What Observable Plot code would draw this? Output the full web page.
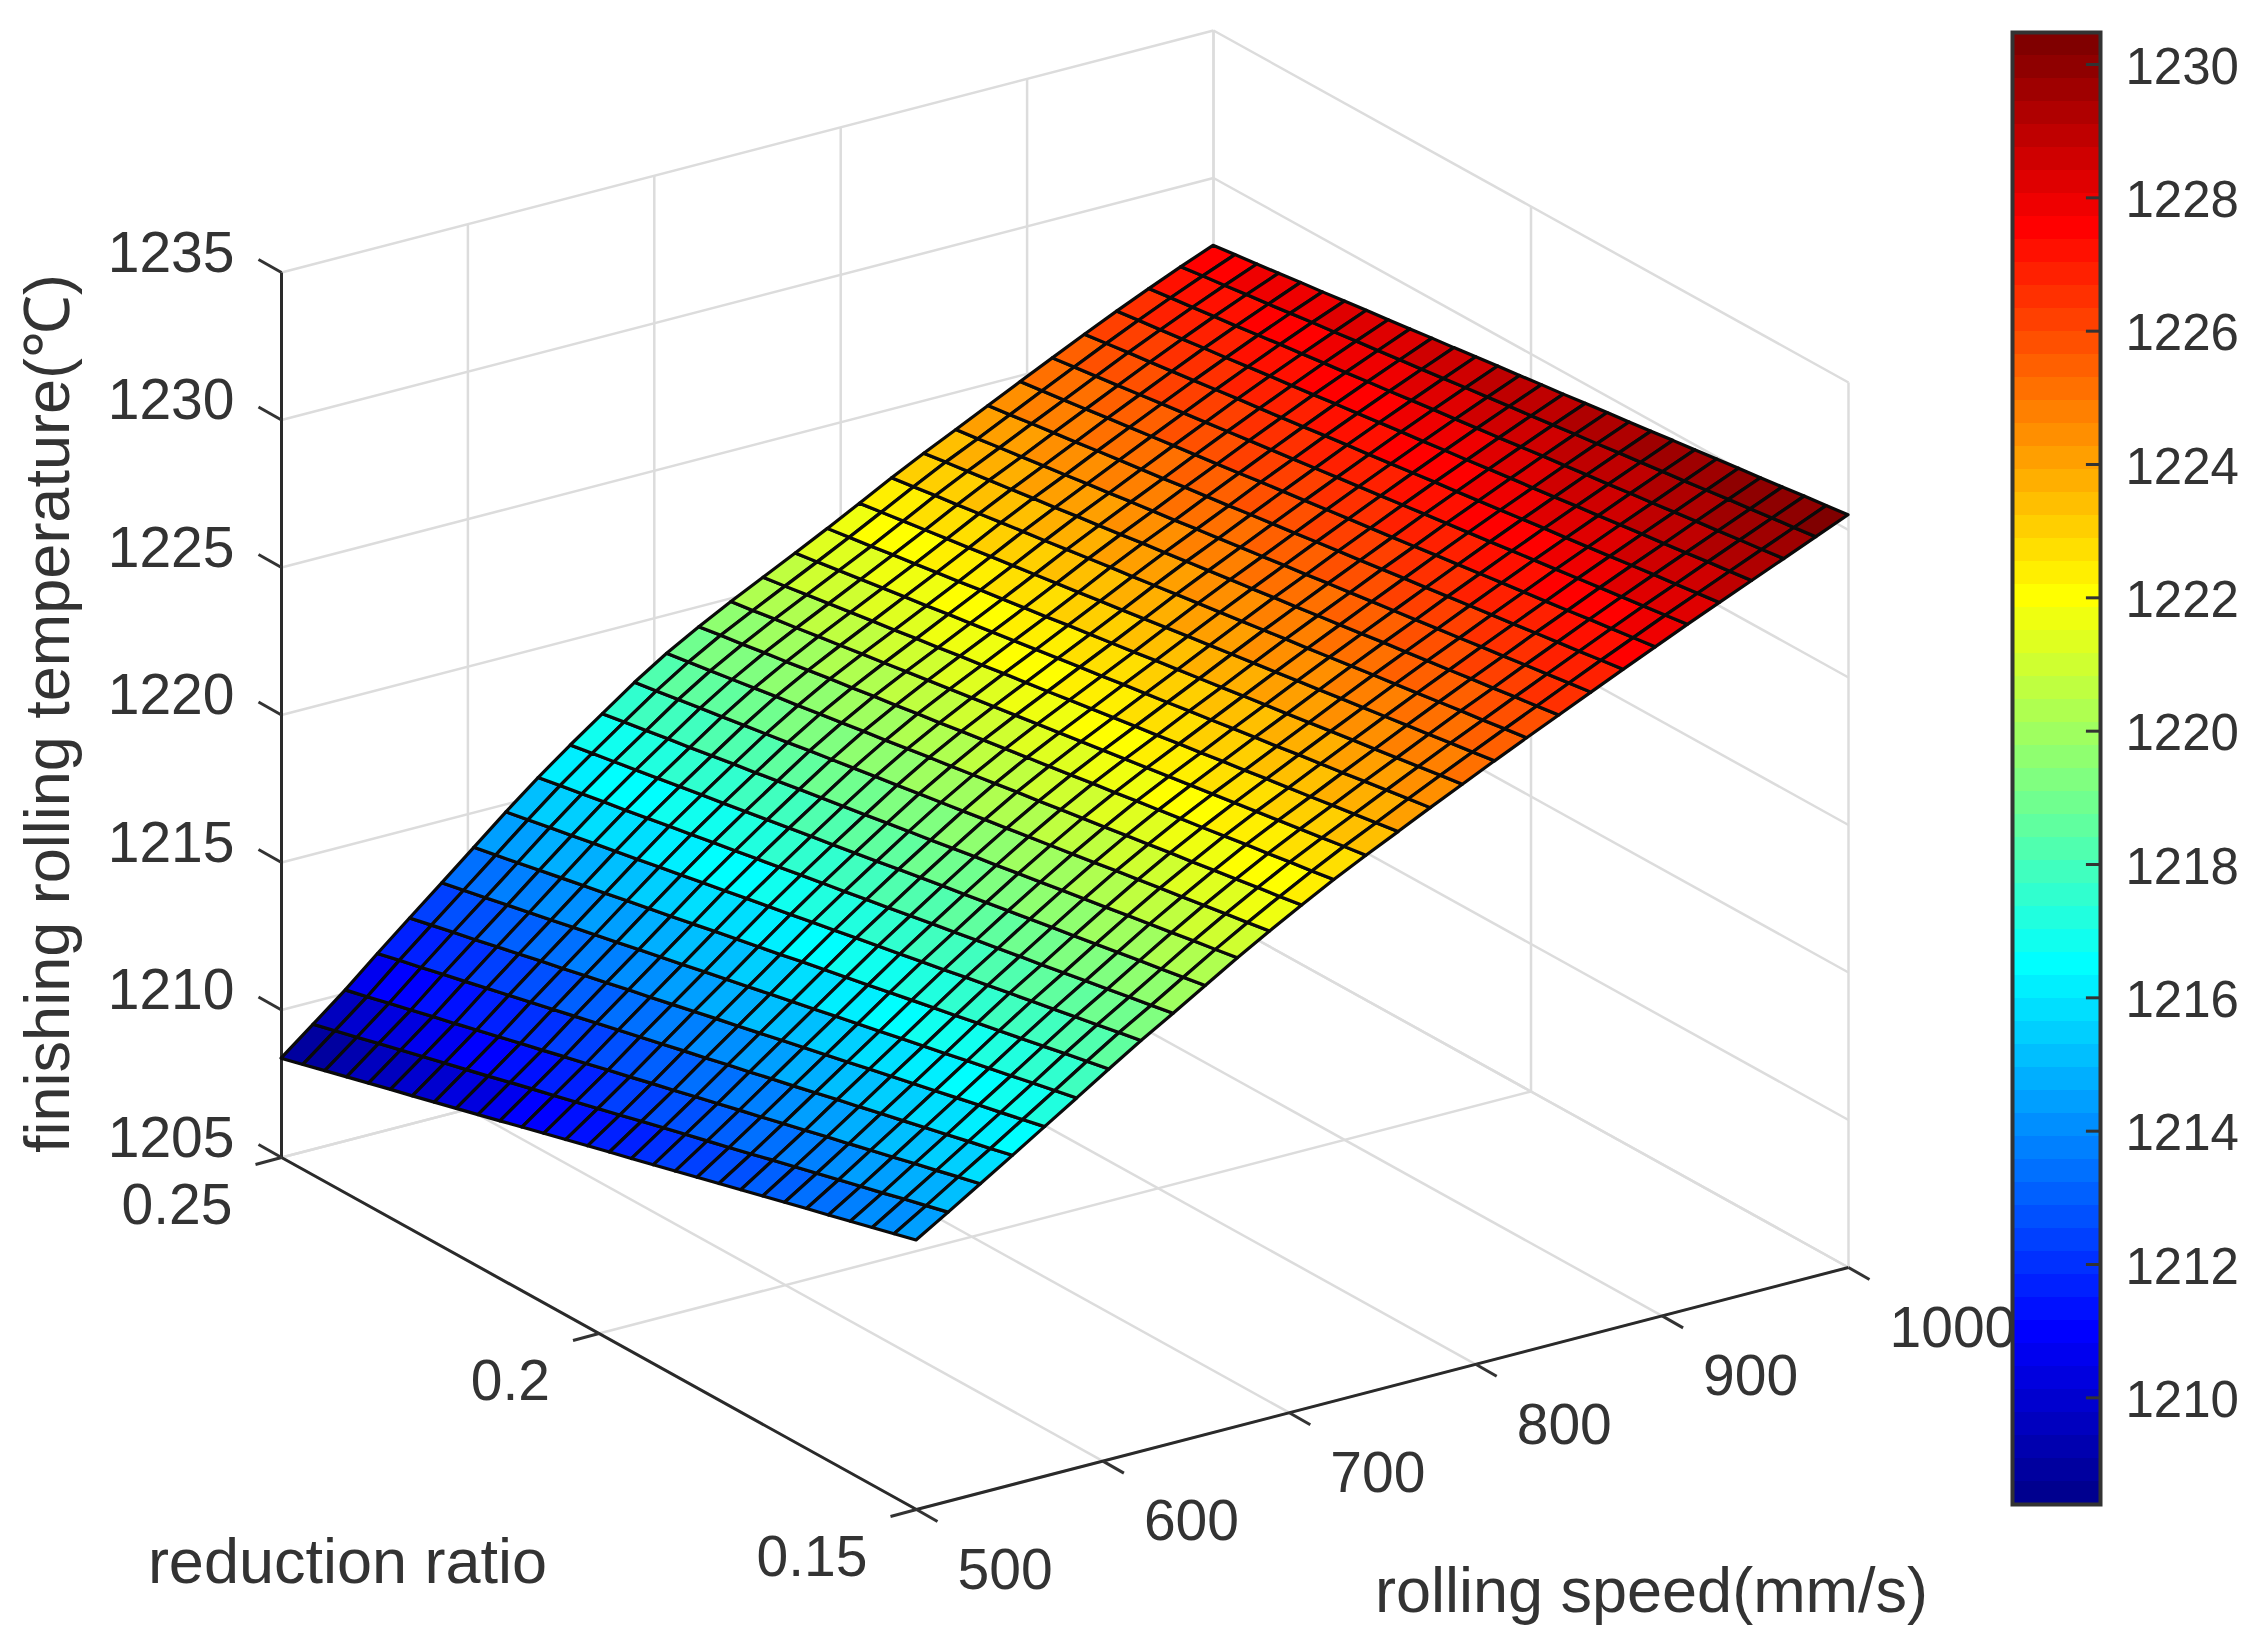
<!DOCTYPE html>
<html><head><meta charset="utf-8">
<script src="https://cdn.jsdelivr.net/npm/d3@7"></script>
<script src="https://cdn.jsdelivr.net/npm/@observablehq/plot@0.6"></script>
<style>html,body{margin:0;background:#fff}#wrap{position:relative;width:2258px;height:1636px;overflow:hidden}#wrap>*{position:absolute;top:0}</style>
</head><body><div id="wrap"></div>
<script>
const speedTicks=[500,600,700,800,900,1000];
const ratioTicks=[0.25,0.2,0.15];
const tempTicks=[1205,1210,1215,1220,1225,1230,1235];
const barTicks=[1210,1212,1214,1216,1218,1220,1222,1224,1226,1228,1230];
const speeds=[500,517.24,534.48,551.72,568.97,586.21,603.45,620.69,637.93,655.17,672.41,689.66,706.9,724.14,741.38,758.62,775.86,793.1,810.34,827.59,844.83,862.07,879.31,896.55,913.79,931.03,948.28,965.52,982.76,1000];
const ratios=[.25,.24655,.2431,.23966,.23621,.23276,.22931,.22586,.22241,.21897,.21552,.21207,.20862,.20517,.20172,.19828,.19483,.19138,.18793,.18448,.18103,.17759,.17414,.17069,.16724,.16379,.16034,.1569,.15345,.15];
const temps=[
[1208.35,1208.55,1208.75,1208.95,1209.15,1209.35,1209.54,1209.74,1209.94,1210.14,1210.34,1210.54,1210.74,1210.94,1211.14,1211.34,1211.53,1211.73,1211.93,1212.13,1212.33,1212.53,1212.73,1212.93,1213.13,1213.32,1213.52,1213.72,1213.92,1214.12],
[1209.22,1209.41,1209.60,1209.80,1209.99,1210.18,1210.37,1210.56,1210.75,1210.95,1211.14,1211.33,1211.52,1211.71,1211.90,1212.10,1212.29,1212.48,1212.67,1212.86,1213.05,1213.25,1213.44,1213.63,1213.82,1214.01,1214.20,1214.40,1214.59,1214.78],
[1210.10,1210.28,1210.47,1210.65,1210.84,1211.02,1211.21,1211.39,1211.58,1211.76,1211.95,1212.13,1212.32,1212.50,1212.69,1212.87,1213.06,1213.24,1213.43,1213.61,1213.80,1213.98,1214.17,1214.35,1214.54,1214.72,1214.91,1215.09,1215.28,1215.46],
[1211.05,1211.23,1211.40,1211.58,1211.75,1211.93,1212.10,1212.28,1212.45,1212.63,1212.81,1212.98,1213.16,1213.33,1213.51,1213.68,1213.86,1214.03,1214.21,1214.38,1214.56,1214.74,1214.91,1215.09,1215.26,1215.44,1215.61,1215.79,1215.96,1216.14],
[1211.97,1212.14,1212.31,1212.47,1212.64,1212.81,1212.98,1213.14,1213.31,1213.48,1213.65,1213.81,1213.98,1214.15,1214.32,1214.48,1214.65,1214.82,1214.99,1215.15,1215.32,1215.49,1215.66,1215.82,1215.99,1216.16,1216.33,1216.49,1216.66,1216.83],
[1212.88,1213.04,1213.20,1213.36,1213.52,1213.68,1213.84,1214.00,1214.16,1214.32,1214.48,1214.64,1214.80,1214.96,1215.12,1215.28,1215.44,1215.60,1215.76,1215.92,1216.08,1216.24,1216.40,1216.56,1216.72,1216.88,1217.04,1217.20,1217.36,1217.52],
[1213.80,1213.95,1214.10,1214.26,1214.41,1214.56,1214.71,1214.87,1215.02,1215.17,1215.32,1215.48,1215.63,1215.78,1215.93,1216.09,1216.24,1216.39,1216.54,1216.70,1216.85,1217.00,1217.15,1217.31,1217.46,1217.61,1217.76,1217.92,1218.07,1218.22],
[1214.72,1214.86,1215.01,1215.15,1215.30,1215.44,1215.58,1215.73,1215.87,1216.02,1216.16,1216.31,1216.45,1216.59,1216.74,1216.88,1217.03,1217.17,1217.31,1217.46,1217.60,1217.75,1217.89,1218.04,1218.18,1218.32,1218.47,1218.61,1218.76,1218.90],
[1215.60,1215.74,1215.87,1216.01,1216.14,1216.28,1216.42,1216.55,1216.69,1216.82,1216.96,1217.09,1217.23,1217.37,1217.50,1217.64,1217.77,1217.91,1218.05,1218.18,1218.32,1218.45,1218.59,1218.72,1218.86,1219.00,1219.13,1219.27,1219.40,1219.54],
[1216.42,1216.55,1216.68,1216.81,1216.94,1217.07,1217.20,1217.33,1217.46,1217.59,1217.72,1217.85,1217.98,1218.11,1218.24,1218.38,1218.51,1218.64,1218.77,1218.90,1219.03,1219.16,1219.29,1219.42,1219.55,1219.68,1219.81,1219.94,1220.07,1220.20],
[1217.20,1217.33,1217.45,1217.58,1217.70,1217.83,1217.96,1218.08,1218.21,1218.34,1218.46,1218.59,1218.71,1218.84,1218.97,1219.09,1219.22,1219.35,1219.47,1219.60,1219.72,1219.85,1219.98,1220.10,1220.23,1220.36,1220.48,1220.61,1220.73,1220.86],
[1217.98,1218.10,1218.22,1218.34,1218.46,1218.58,1218.70,1218.82,1218.95,1219.07,1219.19,1219.31,1219.43,1219.55,1219.67,1219.79,1219.91,1220.03,1220.15,1220.27,1220.39,1220.51,1220.64,1220.76,1220.88,1221.00,1221.12,1221.24,1221.36,1221.48],
[1218.68,1218.80,1218.91,1219.03,1219.15,1219.27,1219.38,1219.50,1219.62,1219.74,1219.85,1219.97,1220.09,1220.20,1220.32,1220.44,1220.56,1220.67,1220.79,1220.91,1221.02,1221.14,1221.26,1221.38,1221.49,1221.61,1221.73,1221.85,1221.96,1222.08],
[1219.30,1219.42,1219.53,1219.65,1219.76,1219.88,1220.00,1220.11,1220.23,1220.34,1220.46,1220.57,1220.69,1220.81,1220.92,1221.04,1221.15,1221.27,1221.39,1221.50,1221.62,1221.73,1221.85,1221.96,1222.08,1222.20,1222.31,1222.43,1222.54,1222.66],
[1219.87,1219.98,1220.10,1220.21,1220.33,1220.44,1220.56,1220.67,1220.79,1220.90,1221.02,1221.13,1221.25,1221.36,1221.48,1221.59,1221.71,1221.82,1221.94,1222.05,1222.17,1222.28,1222.40,1222.51,1222.63,1222.74,1222.86,1222.97,1223.09,1223.20],
[1220.41,1220.52,1220.64,1220.75,1220.87,1220.98,1221.09,1221.21,1221.32,1221.44,1221.55,1221.67,1221.78,1221.89,1222.01,1222.12,1222.24,1222.35,1222.46,1222.58,1222.69,1222.81,1222.92,1223.04,1223.15,1223.26,1223.38,1223.49,1223.61,1223.72],
[1220.95,1221.06,1221.18,1221.29,1221.41,1221.52,1221.63,1221.75,1221.86,1221.97,1222.09,1222.20,1222.32,1222.43,1222.54,1222.66,1222.77,1222.88,1223.00,1223.11,1223.23,1223.34,1223.45,1223.57,1223.68,1223.79,1223.91,1224.02,1224.14,1224.25],
[1221.50,1221.61,1221.72,1221.84,1221.95,1222.06,1222.17,1222.29,1222.40,1222.51,1222.62,1222.74,1222.85,1222.96,1223.07,1223.19,1223.30,1223.41,1223.52,1223.64,1223.75,1223.86,1223.97,1224.09,1224.20,1224.31,1224.42,1224.54,1224.65,1224.76],
[1222.07,1222.18,1222.29,1222.40,1222.51,1222.62,1222.73,1222.84,1222.95,1223.06,1223.17,1223.28,1223.39,1223.50,1223.62,1223.73,1223.84,1223.95,1224.06,1224.17,1224.28,1224.39,1224.50,1224.61,1224.72,1224.83,1224.94,1225.05,1225.16,1225.27],
[1222.65,1222.76,1222.87,1222.97,1223.08,1223.19,1223.30,1223.40,1223.51,1223.62,1223.73,1223.83,1223.94,1224.05,1224.16,1224.26,1224.37,1224.48,1224.59,1224.69,1224.80,1224.91,1225.02,1225.12,1225.23,1225.34,1225.45,1225.55,1225.66,1225.77],
[1223.20,1223.31,1223.41,1223.52,1223.62,1223.73,1223.83,1223.94,1224.04,1224.15,1224.26,1224.36,1224.47,1224.57,1224.68,1224.78,1224.89,1224.99,1225.10,1225.20,1225.31,1225.42,1225.52,1225.63,1225.73,1225.84,1225.94,1226.05,1226.15,1226.26],
[1223.72,1223.82,1223.93,1224.03,1224.14,1224.24,1224.35,1224.45,1224.56,1224.66,1224.76,1224.87,1224.97,1225.08,1225.18,1225.29,1225.39,1225.50,1225.60,1225.71,1225.81,1225.91,1226.02,1226.12,1226.23,1226.33,1226.44,1226.54,1226.65,1226.75],
[1224.25,1224.35,1224.46,1224.56,1224.66,1224.77,1224.87,1224.97,1225.07,1225.18,1225.28,1225.38,1225.49,1225.59,1225.69,1225.80,1225.90,1226.00,1226.11,1226.21,1226.31,1226.42,1226.52,1226.62,1226.72,1226.83,1226.93,1227.03,1227.14,1227.24],
[1224.78,1224.88,1224.98,1225.08,1225.19,1225.29,1225.39,1225.49,1225.59,1225.69,1225.79,1225.90,1226.00,1226.10,1226.20,1226.30,1226.40,1226.50,1226.60,1226.71,1226.81,1226.91,1227.01,1227.11,1227.21,1227.31,1227.42,1227.52,1227.62,1227.72],
[1225.30,1225.40,1225.50,1225.60,1225.70,1225.80,1225.90,1226.00,1226.10,1226.20,1226.30,1226.40,1226.50,1226.60,1226.70,1226.80,1226.90,1227.00,1227.10,1227.20,1227.30,1227.40,1227.50,1227.60,1227.70,1227.80,1227.90,1228.00,1228.10,1228.20],
[1225.82,1225.92,1226.02,1226.11,1226.21,1226.31,1226.41,1226.51,1226.60,1226.70,1226.80,1226.90,1227.00,1227.09,1227.19,1227.29,1227.39,1227.48,1227.58,1227.68,1227.78,1227.88,1227.97,1228.07,1228.17,1228.27,1228.37,1228.46,1228.56,1228.66],
[1226.32,1226.42,1226.51,1226.61,1226.71,1226.80,1226.90,1227.00,1227.09,1227.19,1227.29,1227.38,1227.48,1227.58,1227.67,1227.77,1227.86,1227.96,1228.06,1228.15,1228.25,1228.35,1228.44,1228.54,1228.64,1228.73,1228.83,1228.93,1229.02,1229.12],
[1226.80,1226.90,1226.99,1227.09,1227.18,1227.28,1227.38,1227.47,1227.57,1227.66,1227.76,1227.85,1227.95,1228.05,1228.14,1228.24,1228.33,1228.43,1228.53,1228.62,1228.72,1228.81,1228.91,1229.00,1229.10,1229.20,1229.29,1229.39,1229.48,1229.58],
[1227.26,1227.36,1227.45,1227.55,1227.64,1227.74,1227.84,1227.93,1228.03,1228.12,1228.22,1228.31,1228.41,1228.51,1228.60,1228.70,1228.79,1228.89,1228.99,1229.08,1229.18,1229.27,1229.37,1229.46,1229.56,1229.66,1229.75,1229.85,1229.94,1230.04],
[1227.70,1227.80,1227.89,1227.99,1228.09,1228.18,1228.28,1228.38,1228.47,1228.57,1228.67,1228.76,1228.86,1228.96,1229.05,1229.15,1229.24,1229.34,1229.44,1229.53,1229.63,1229.73,1229.82,1229.92,1230.02,1230.11,1230.21,1230.31,1230.40,1230.50]
];
const lo=1208.4,hi=1230.48;
const U=s=>(s-500)/500,V=r=>(.25-r)/.1,W=t=>(t-1205)/30;
const px=(s,r)=>281+932*U(s)+635*V(r);
const py=(s,r,t)=>1157-242*U(s)+352*V(r)-885*W(t);
const P=(s,r,t)=>({x:px(s,r),y:py(s,r,t)});
const seg=(a,b)=>({x1:a.x,y1:a.y,x2:b.x,y2:b.y});
const grid=[];
for(const s of speedTicks){grid.push(seg(P(s,.25,1205),P(s,.15,1205)),seg(P(s,.25,1205),P(s,.25,1235)));}
for(const r of ratioTicks){grid.push(seg(P(500,r,1205),P(1000,r,1205)),seg(P(1000,r,1205),P(1000,r,1235)));}
for(const t of tempTicks){grid.push(seg(P(500,.25,t),P(1000,.25,t)),seg(P(1000,.25,t),P(1000,.15,t)));}
const axes=[seg(P(500,.25,1205),P(500,.25,1235)),seg(P(500,.25,1205),P(500,.15,1205)),seg(P(500,.15,1205),P(1000,.15,1205))];
const tick=[];
for(const t of tempTicks){const a=P(500,.25,t);tick.push({x1:a.x,y1:a.y,x2:a.x-23,y2:a.y-13});}
for(const r of ratioTicks){const a=P(500,r,1205);tick.push({x1:a.x,y1:a.y,x2:a.x-26,y2:a.y+7});}
for(const s of speedTicks){const a=P(s,.15,1205);tick.push({x1:a.x,y1:a.y,x2:a.x+21,y2:a.y+12});}
const quads=[];let id=0;
for(let i=0;i<29;i++)for(let j=0;j<29;j++){
  const a=P(speeds[i],ratios[j],temps[i][j]),b=P(speeds[i],ratios[j+1],temps[i][j+1]),c=P(speeds[i+1],ratios[j],temps[i+1][j]),e=P(speeds[i+1],ratios[j+1],temps[i+1][j+1]);
  const t=(temps[i][j]+temps[i][j+1]+temps[i+1][j]+temps[i+1][j+1])/4;
  quads.push({id,t,x1:a.x,y1:a.y,x2:b.x,y2:b.y},{id,t,x1:c.x,y1:c.y,x2:e.x,y2:e.y});id++;
}
function jet(){const u=m=>m<1||m>47?0:m<=16?m/16:m<=31?1:(48-m)/16;const o=[];for(let K=1;K<=64;K++){o.push(d3.rgb(255*u(K-24),255*u(K-8),255*u(K+8)).formatHex());}return o;}
const jet64=jet();
const step=(hi-lo)/64;
const thresholds=d3.range(1,64).map(k=>lo+k*step);
const color={type:"threshold",domain:thresholds,range:jet64};
const font={fontFamily:"Liberation Sans",background:"transparent"};
const ink="#333";
const main=Plot.plot({width:2258,height:1636,margin:0,style:font,
 x:{domain:[0,2258],range:[0,2258],axis:null},y:{domain:[0,1636],range:[0,1636],axis:null},color,
 marks:[
  Plot.link(grid,{x1:"x1",y1:"y1",x2:"x2",y2:"y2",stroke:"#dcdcdc",strokeWidth:2.5}),
  Plot.link(axes,{x1:"x1",y1:"y1",x2:"x2",y2:"y2",stroke:"#2a2a2a",strokeWidth:3}),
  Plot.link(tick,{x1:"x1",y1:"y1",x2:"x2",y2:"y2",stroke:"#333",strokeWidth:3}),
  Plot.area(quads,{x1:"x1",y1:"y1",x2:"x2",y2:"y2",z:"id",fill:"t",stroke:"#0a0a0a",strokeWidth:3.2}),
  Plot.text(tempTicks,{x:t=>px(500,.25),y:t=>py(500,.25,t),text:d=>String(d),textAnchor:"end",dx:-47,dy:-19,fontSize:57,fill:ink}),
  Plot.text(ratioTicks,{x:r=>px(500,r),y:r=>py(500,r,1205),text:d=>String(d),textAnchor:"end",dx:-49,dy:48,fontSize:57,fill:ink}),
  Plot.text(speedTicks,{x:s=>px(s,.15),y:s=>py(s,.15,1205),text:d=>String(d),textAnchor:"start",dx:41,dy:61,fontSize:57,fill:ink}),
  Plot.text(["finishing rolling temperature(℃)"],{x:()=>48,y:()=>713,text:d=>d,rotate:-90,fontSize:63,fill:ink}),
  Plot.text(["reduction ratio"],{x:()=>347,y:()=>1562,text:d=>d,fontSize:63,fill:ink}),
  Plot.text(["rolling speed(mm/s)"],{x:()=>1651,y:()=>1591,text:d=>d,fontSize:63,fill:ink})
 ]});
const bands=d3.range(64).map(k=>({a:lo+k*step,b:lo+(k+1)*step,m:lo+(k+.5)*step}));
const bar=Plot.plot({width:258,height:1636,marginLeft:12,marginRight:158,marginTop:32,marginBottom:132,style:font,
 x:{domain:[0,1],axis:null},y:{domain:[lo,hi],axis:null},color,
 marks:[
  Plot.rect(bands,{x1:()=>0,x2:()=>1,y1:"a",y2:"b",fill:"m",shapeRendering:"crispEdges"}),
  Plot.ruleY(barTicks,{y:d=>d,x1:()=>.84,x2:()=>1,stroke:"#333",strokeWidth:3}),
  Plot.frame({stroke:"#333",strokeWidth:4}),
  Plot.axisY(barTicks,{anchor:"right",tickSize:0,tickPadding:25,tickFormat:d3.format("d"),fontSize:51,fill:ink,label:null,dy:3})
 ]});
bar.style.left="2000px";
main.style.left="0";
document.getElementById("wrap").append(main,bar);
</script></body></html>
